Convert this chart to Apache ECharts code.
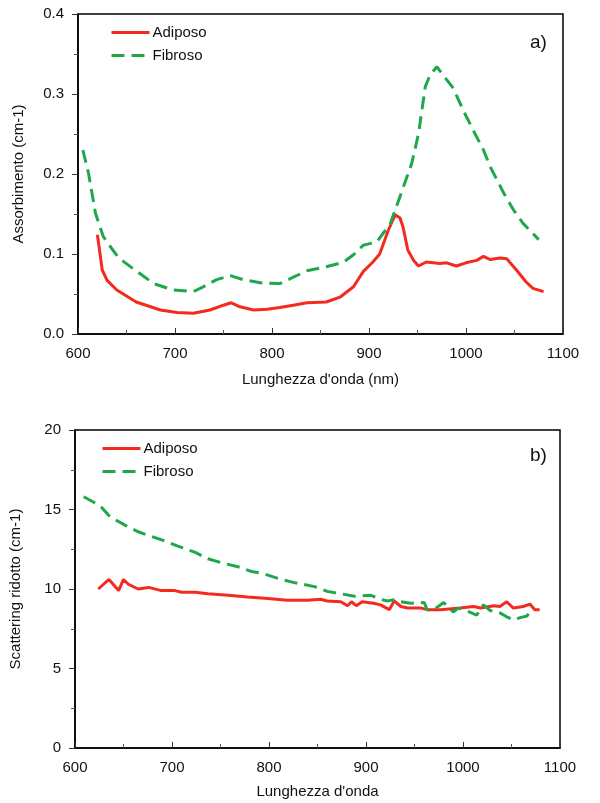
<!DOCTYPE html>
<html>
<head>
<meta charset="utf-8">
<script src="https://cdn.jsdelivr.net/npm/echarts@6/dist/echarts.min.js"></script>
<style>
html,body{margin:0;padding:0;background:#fff;}
#chart{width:600px;height:803px;}
</style>
</head>
<body>
<div id="chart"></div>
<script>
// Panel a) Assorbimento
const absAdiposoNm = [620,625,630,640,660,685,702,719,736,750,758,767,781,795,808,822,836,856,870,884,894,904,911,920,927,932,935,940,946,951,959,973,980,990,1000,1011,1018,1025,1035,1042,1052,1062,1069,1080];
const absAdiposoVal = [0.124,0.080,0.067,0.055,0.040,0.030,0.027,0.026,0.030,0.036,0.039,0.034,0.030,0.031,0.033,0.036,0.039,0.040,0.046,0.059,0.078,0.090,0.100,0.130,0.149,0.145,0.134,0.105,0.092,0.085,0.090,0.088,0.089,0.085,0.089,0.092,0.097,0.093,0.095,0.094,0.080,0.065,0.057,0.053];
const absFibrosoNm = [605,611,618,626,631,642,661,678,698,719,729,743,757,770,788,808,822,836,856,874,884,894,908,922,932,944,951,958,963,970,980,987,997,1009,1018,1025,1039,1049,1059,1075];
const absFibrosoVal = [0.230,0.200,0.151,0.122,0.113,0.095,0.078,0.063,0.055,0.053,0.059,0.068,0.073,0.068,0.064,0.063,0.071,0.079,0.084,0.090,0.099,0.111,0.115,0.138,0.172,0.213,0.250,0.309,0.324,0.334,0.318,0.307,0.280,0.251,0.230,0.209,0.176,0.155,0.138,0.118];

// Panel b) Scattering ridotto
const scatAdiposoNm = [624,635,645,650,655,665,676,689,703,710,724,737,758,778,799,819,840,853,860,874,881,885,890,896,908,915,924,929,936,943,957,963,977,997,1011,1018,1032,1038,1045,1052,1062,1069,1074,1079];
const scatAdiposoVal = [10.0,10.6,9.9,10.6,10.3,10.0,10.1,9.9,9.9,9.8,9.8,9.7,9.6,9.5,9.4,9.3,9.3,9.35,9.25,9.2,8.95,9.2,8.95,9.2,9.1,9.0,8.7,9.25,8.9,8.8,8.8,8.7,8.7,8.8,8.9,8.8,8.95,8.9,9.2,8.8,8.9,9.05,8.7,8.7];
const scatFibrosoNm = [609,621,628,636,652,665,679,689,706,724,737,751,768,782,792,813,826,847,860,874,888,905,915,922,931,936,946,960,963,970,980,990,995,1007,1014,1021,1028,1038,1045,1052,1059,1066,1069];
const scatFibrosoVal = [15.8,15.4,15.1,14.55,14.0,13.6,13.3,13.1,12.7,12.3,11.9,11.65,11.4,11.1,11.0,10.6,10.4,10.15,9.85,9.7,9.55,9.6,9.35,9.25,9.35,9.2,9.1,9.15,8.7,8.7,9.15,8.55,8.8,8.55,8.35,9.0,8.65,8.5,8.25,8.05,8.2,8.3,8.6];

const seriesNames = ['Adiposo','Fibroso'];
const xTitleA = "Lunghezza d'onda (nm)";
const xTitleB = "Lunghezza d'onda";
const yTitleA = 'Assorbimento (cm-1)';
const yTitleB = 'Scattering ridotto (cm-1)';
const panelLabels = ['a)','b)'];

const RED = '#f42a1f';
const GREEN = '#1ea84b';
const FONT = '"Liberation Sans", Arial, sans-serif';

function pairs(xs, ys){ return xs.map((x,i)=>[x, ys[i]]); }

const axisLineStyle = {show:true, lineStyle:{color:'#000', width:1.5}};
function xAxisCfg(idx, name, gap){
  return {
    type:'value', gridIndex:idx, min:600, max:1100, interval:100,
    name:name, nameLocation:'middle', nameGap:gap,
    nameTextStyle:{fontFamily:FONT, fontSize:15, color:'#111'},
    axisLine:axisLineStyle,
    axisTick:{show:true, inside:true, length:6, lineStyle:{color:'#333', width:1}},
    minorTick:{show:true, splitNumber:2, length:4, lineStyle:{color:'#555', width:1}},
    axisLabel:{fontFamily:FONT, fontSize:15, color:'#111', margin:12, formatter:v=>String(v)},
    splitLine:{show:false}
  };
}
function yAxisCfg(idx, name, min, max, interval, fmt){
  return {
    type:'value', gridIndex:idx, min:min, max:max, interval:interval,
    name:name, nameLocation:'middle', nameGap:52, nameRotate:90,
    nameTextStyle:{fontFamily:FONT, fontSize:15, color:'#111'},
    axisLine:axisLineStyle,
    axisTick:{show:true, inside:false, length:6, lineStyle:{color:'#333', width:1}},
    minorTick:{show:true, splitNumber:2, length:4, lineStyle:{color:'#555', width:1}},
    axisLabel:{fontFamily:FONT, fontSize:15, color:'#111', margin:14, formatter:fmt},
    splitLine:{show:false}
  };
}
function lineSeries(name, idx, data, color, dashed){
  return {
    name:name, type:'line', xAxisIndex:idx, yAxisIndex:idx,
    data:data, symbol:'none', smooth:false, animation:false,
    lineStyle:{color:color, width:3, type: dashed ? [13,7] : 'solid'},
    itemStyle:{color:color}
  };
}
function legendCfg(left, top){
  return {left:left, top:top, orient:'vertical', padding:0, itemWidth:38, itemHeight:12, itemGap:8,
    itemStyle:{opacity:0},
    lineStyle:{width:3},
    data:seriesNames, textStyle:{fontFamily:FONT, fontSize:15, color:'#111', padding:[0,0,0,-2]}};
}

const chart = echarts.init(document.getElementById('chart'), null, {renderer:'canvas'});
chart.setOption({
  backgroundColor:'#fff',
  animation:false,
  grid:[
    {left:78, top:14, width:485, height:320, show:true, borderColor:'#000', borderWidth:1.5},
    {left:73, top:430, width:487, height:318, show:true, borderColor:'#000', borderWidth:1.5}
  ],
  legend:[ legendCfg(110, 25), legendCfg(101, 441) ],
  graphic:[
    {type:'text', left:530, top:33, style:{text:panelLabels[0], font:'19px "Liberation Sans", Arial, sans-serif', fill:'#111'}},
    {type:'text', left:530, top:446, style:{text:panelLabels[1], font:'19px "Liberation Sans", Arial, sans-serif', fill:'#111'}}
  ],
  xAxis:[ xAxisCfg(0, xTitleA, 38), xAxisCfg(1, xTitleB, 36) ],
  yAxis:[
    yAxisCfg(0, yTitleA, 0, 0.4, 0.1, v=>v.toFixed(1)),
    yAxisCfg(1, yTitleB, 0, 20, 5, v=>String(v))
  ],
  series:[
    lineSeries(seriesNames[0], 0, pairs(absAdiposoNm, absAdiposoVal), RED, false),
    lineSeries(seriesNames[1], 0, pairs(absFibrosoNm, absFibrosoVal), GREEN, true),
    lineSeries(seriesNames[0], 1, pairs(scatAdiposoNm, scatAdiposoVal), RED, false),
    lineSeries(seriesNames[1], 1, pairs(scatFibrosoNm, scatFibrosoVal), GREEN, true)
  ]
});
</script>
</body>
</html>
